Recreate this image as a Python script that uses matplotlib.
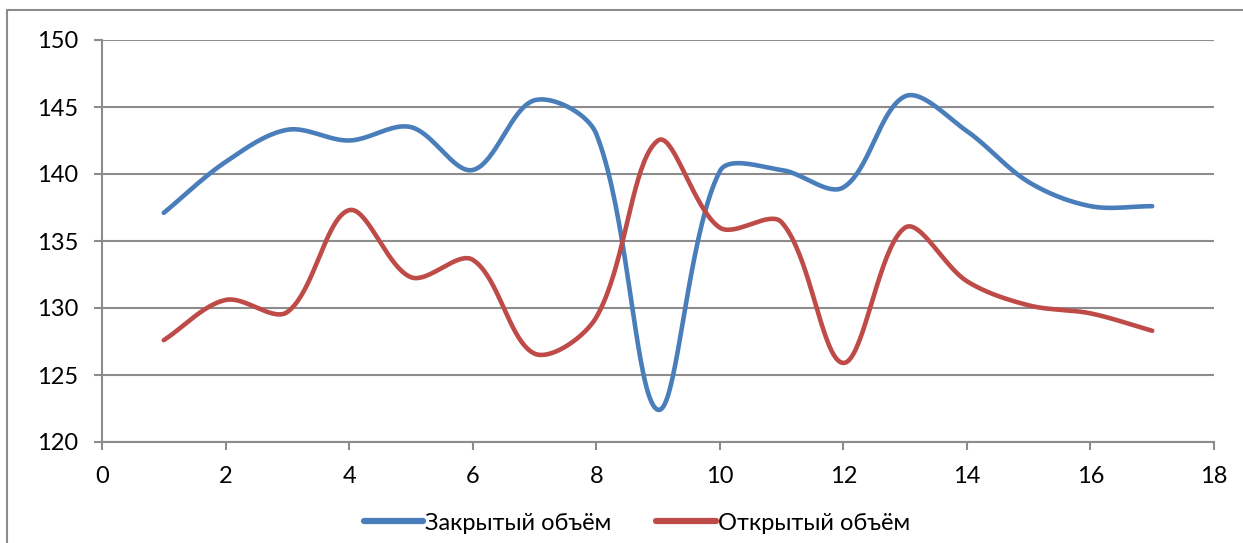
import numpy as np
import matplotlib
matplotlib.use('Agg')
from matplotlib import pyplot as plt
from matplotlib.patches import Rectangle

plt.rcParams['font.family'] = ['Lato', 'Noto Sans', 'DejaVu Sans']

x = list(range(1, 18))
closed_vol = [137.1, 140.9, 143.3, 142.5, 143.5, 140.3, 145.5, 143.0, 122.4,
              140.2, 140.3, 139.0, 145.8, 143.2, 139.4, 137.6, 137.6]
open_vol = [127.6, 130.6, 129.7, 137.3, 132.3, 133.6, 126.6, 129.3, 142.5,
            136.0, 136.4, 125.9, 136.0, 132.0, 130.2, 129.6, 128.3]
labels = ['Закрытый объём', 'Открытый объём']
colors = ['#4A7EBB', '#BE4B48']
grid_c = '#8C8C8C'

# pixels per data unit, used to weight the curve tangents on screen
SX, SY = 1112 / 18, 402 / 30


def smooth(xs, ys, n=40):
    # cubic bezier through the points; tangent length split by neighbour distance
    p = np.column_stack([np.asarray(xs) * SX, np.asarray(ys) * SY]).astype(float)
    m = len(p)
    cin, cout = np.zeros_like(p), np.zeros_like(p)
    for i in range(m):
        a = p[max(i - 1, 0)]
        b = p[min(i + 1, m - 1)]
        dp = np.hypot(*(p[i] - a))
        dn = np.hypot(*(b - p[i]))
        tot = dp + dn if dp + dn > 0 else 1.0
        tan = b - a
        cout[i] = p[i] + tan * dn / tot / 3
        cin[i] = p[i] - tan * dp / tot / 3
    t = np.linspace(0, 1, n)[:, None]
    out = []
    for i in range(m - 1):
        a, b, c, d = p[i], cout[i], cin[i + 1], p[i + 1]
        seg = (1 - t) ** 3 * a + 3 * (1 - t) ** 2 * t * b + 3 * (1 - t) * t ** 2 * c + t ** 3 * d
        out.append(seg if i == 0 else seg[1:])
    s = np.vstack(out)
    return s[:, 0] / SX, s[:, 1] / SY


fig = plt.figure(figsize=(12.43, 5.43), dpi=100, facecolor='w')
ax = fig.add_axes([102 / 1243, 1 - 442 / 543, 1112 / 1243, 402 / 543])

for ys, lab, c in zip([closed_vol, open_vol], labels, colors):
    sx, sy = smooth(x, ys)
    ax.plot(sx, sy, color=c, lw=3.3, label=lab, solid_capstyle='round', zorder=3)

ax.set_xlim(0, 18)
ax.set_ylim(120, 150)
ax.set_xticks(np.arange(0, 19, 2))
ax.set_yticks(np.arange(120, 151, 5))
ax.yaxis.grid(True, color=grid_c, lw=1.5, zorder=0)
for side in ['top', 'right']:
    ax.spines[side].set_visible(False)
for side in ['left', 'bottom']:
    ax.spines[side].set_color(grid_c)
    ax.spines[side].set_linewidth(1.5)
ax.tick_params(axis='both', colors=grid_c, width=1.5, length=6, labelsize=17,
               labelcolor='black')
ax.tick_params(axis='y', pad=11)
ax.tick_params(axis='x', pad=11)

leg = fig.legend(loc='center', bbox_to_anchor=(637 / 1243, 1 - 523 / 543), ncol=2,
                 frameon=False, fontsize=17, handlelength=2.5, handletextpad=0.1,
                 columnspacing=1.9)
for h in leg.get_lines():
    h.set_linewidth(4.5)

# outer chart frame
fig.patches.append(Rectangle((7 / 1243, -0.2), 1.5, 1 - 10 / 543 + 0.2,
                             transform=fig.transFigure, fill=False,
                             edgecolor=grid_c, lw=1.5))

fig.savefig('out.png', dpi=100)
